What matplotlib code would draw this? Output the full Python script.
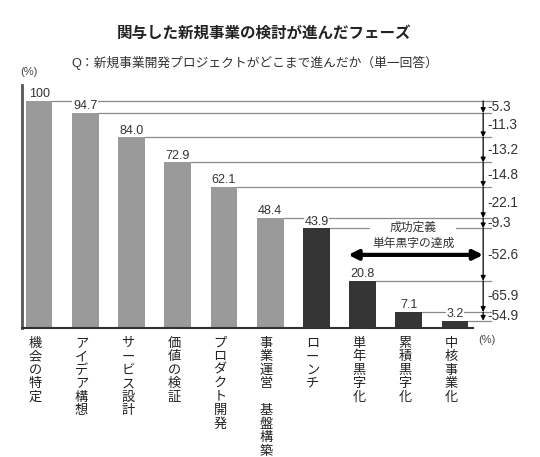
import matplotlib
matplotlib.use("Agg")
import matplotlib.pyplot as plt

plt.rcParams['font.family'] = ['Liberation Sans', 'Noto Sans CJK JP', 'DejaVu Sans']

categories = ['機会の特定', 'アイデア構想', 'サービス設計', '価値の検証', 'プロダクト開発',
              '事業運営　基盤構築', 'ローンチ', '単年黒字化', '累積黒字化', '中核事業化']
values = [100, 94.7, 84.0, 72.9, 62.1, 48.4, 43.9, 20.8, 7.1, 3.2]
value_labels = ['100', '94.7', '84.0', '72.9', '62.1', '48.4', '43.9', '20.8', '7.1', '3.2']
drops = ['-5.3', '-11.3', '-13.2', '-14.8', '-22.1', '-9.3', '-52.6', '-65.9', '-54.9']
phase_group = ['pre'] * 6 + ['post'] * 4

title = '関与した新規事業の検討が進んだフェーズ'
subtitle = 'Q：新規事業開発プロジェクトがどこまで進んだか（単一回答）'
callout = '成功定義\n単年黒字の達成'

GRAY = '#9a9a9a'
DARK = '#353535'
LINE = '#8a8a8a'

fig = plt.figure(figsize=(5.4, 4.57), dpi=100)
ax = fig.add_axes([22 / 540, 1 - 328 / 457, (473 - 22) / 540, (328 - 85) / 457])

x = list(range(len(values)))
bw = 0.58
cols = [GRAY if g == 'pre' else DARK for g in phase_group]
ax.bar(x, values, width=bw, color=cols, zorder=2)

ax.set_xlim(-0.37, 9.39)
ax.set_ylim(0, 107)
for s in ['top', 'right']:
    ax.spines[s].set_visible(False)
ax.spines['left'].set_linewidth(2)
ax.spines['left'].set_color('#555555')
ax.spines['bottom'].set_linewidth(1.5)
ax.spines['bottom'].set_color('#333333')
ax.set_xticks([])
ax.set_yticks([])

x_arrow = 9.61
x_end = 9.77

# horizontal reference lines from each bar top
for i, v in enumerate(values):
    ax.plot([i + bw / 2, x_end], [v, v], color=LINE, lw=0.9, zorder=1, clip_on=False)

# value labels
for i, (v, lab) in enumerate(zip(values, value_labels)):
    ax.annotate(lab, (i, v), xytext=(0, 4.8), textcoords='offset points',
                ha='center', va='center', fontsize=9, color='#333333', zorder=1.5,
                bbox=dict(boxstyle='square,pad=0.05', fc='white', ec='none'),
                annotation_clip=False)

# vertical arrows with drop rates
for i in range(len(values) - 1):
    a, b = values[i], values[i + 1]
    ax.annotate('', xy=(x_arrow, b), xytext=(x_arrow, a),
                arrowprops=dict(arrowstyle='-|>', color='black', lw=0.9,
                                mutation_scale=7, shrinkA=0, shrinkB=0),
                annotation_clip=False, zorder=5)
    ax.text(x_arrow + 0.1, (a + b) / 2, drops[i], ha='left', va='center',
            fontsize=9.8, color='#333333', clip_on=False)

# callout
ax.text(8.1, 40.5, callout, ha='center', va='center', fontsize=8.5,
        color='#333333', linespacing=1.4, zorder=4,
        bbox=dict(boxstyle='square,pad=0.15', fc='white', ec='none'))
ax.annotate('', xy=(6.69, 32.2), xytext=(x_arrow, 32.2),
            arrowprops=dict(arrowstyle='<|-|>', color='black', lw=3,
                            mutation_scale=14, shrinkA=0, shrinkB=0),
            annotation_clip=False, zorder=5)

# vertical category labels
for i, c in enumerate(categories):
    ax.text(i - 0.08, -3.9, '\n'.join(c), ha='center', va='top', fontsize=9.5,
            color='#222222', linespacing=1.05, clip_on=False,
            family=['Noto Sans CJK JP', 'DejaVu Sans'])

# titles and units
fig.text(0.489, 1 - 33 / 457, title, ha='center', va='center', fontsize=11.2,
         fontweight='bold', color='#222222')
fig.text(0.472, 1 - 63 / 457, subtitle, ha='center', va='center', fontsize=9.2,
         color='#333333')
fig.text(29 / 540, 1 - 72 / 457, '(%)', ha='center', va='center', fontsize=8,
         color='#444444')
fig.text(487 / 540, 1 - 340 / 457, '(%)', ha='center', va='center', fontsize=8,
         color='#444444')

fig.savefig('out.png', dpi=100, facecolor='white')
